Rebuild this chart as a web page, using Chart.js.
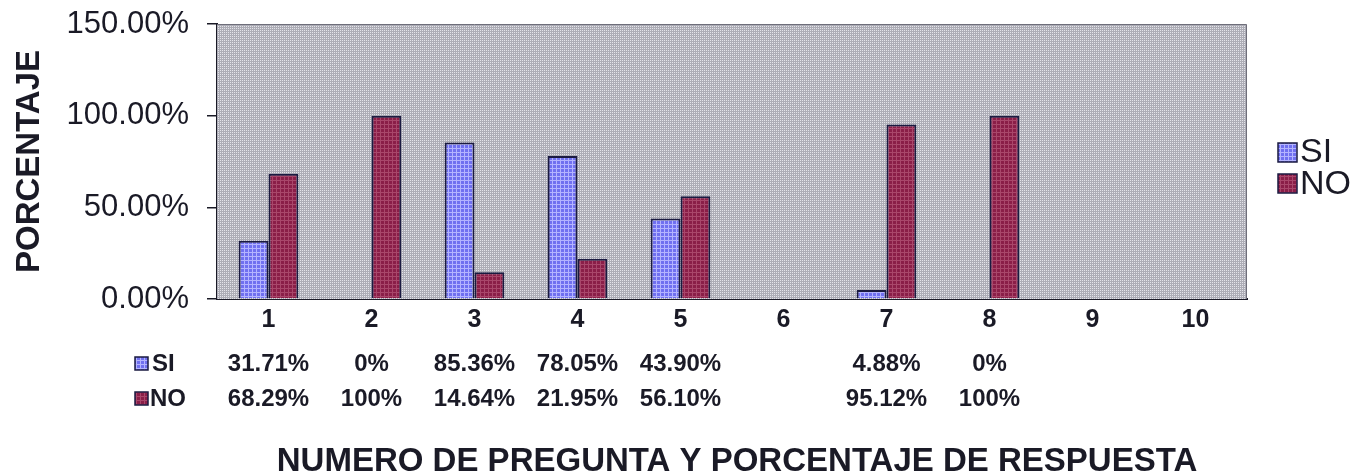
<!DOCTYPE html>
<html>
<head>
<meta charset="utf-8">
<script src="https://cdn.jsdelivr.net/npm/chart.js@4/dist/chart.umd.min.js"></script>
<style>
  html, body { margin: 0; padding: 0; background: #fff; }
  #wrap { width: 1365px; height: 475px; }
</style>
</head>
<body>
<div id="wrap"><canvas id="chart" width="1365" height="475"></canvas></div>
<script>
// data
const preguntas = ["1", "2", "3", "4", "5", "6", "7", "8", "9", "10"];
const siValues = [31.71, 0, 85.36, 78.05, 43.90, null, 4.88, 0, null, null];
const noValues = [68.29, 100, 14.64, 21.95, 56.10, null, 95.12, 100, null, null];
const siLabels = ["31.71%", "0%", "85.36%", "78.05%", "43.90%", "", "4.88%", "0%", "", ""];
const noLabels = ["68.29%", "100%", "14.64%", "21.95%", "56.10%", "", "95.12%", "100%", "", ""];
const yTicks = [0, 50, 100, 150];

const FONT = "'Liberation Sans', Arial, sans-serif";
const TEXT = "#1a1a26";

// small tiled fills, like the old office hatch patterns
function makePattern(base, light, cell) {
  const c = document.createElement("canvas");
  c.width = 4;
  c.height = 4;
  const g = c.getContext("2d");
  g.fillStyle = base;
  g.fillRect(0, 0, 4, 4);
  g.fillStyle = light;
  if (cell === "grid") {
    g.fillRect(0, 0, 4, 1);
    g.fillRect(0, 0, 1, 4);
  } else {
    g.fillRect(0, 0, 1, 1);
    g.fillRect(2, 2, 1, 1);
    g.fillRect(2, 0, 1, 1);
    g.fillRect(0, 2, 1, 1);
  }
  return document.getElementById("chart").getContext("2d").createPattern(c, "repeat");
}

const bgPattern = makePattern("#adadb6", "#e4e4ea", "dots");
const siPattern = makePattern("#7070f0", "#b4b4ff", "grid");
const noPattern = makePattern("#8a1e48", "#a9476b", "grid");

const plotBackground = {
  id: "plotBackground",
  beforeDatasetsDraw(chart) {
    const { ctx, chartArea: a } = chart;
    ctx.save();
    ctx.fillStyle = bgPattern;
    ctx.fillRect(a.left, a.top, a.right - a.left, a.bottom - a.top);
    ctx.strokeStyle = "#6e6e7a";
    ctx.lineWidth = 1;
    ctx.beginPath();
    ctx.moveTo(a.left, a.top + 0.5);
    ctx.lineTo(a.right - 0.5, a.top + 0.5);
    ctx.lineTo(a.right - 0.5, a.bottom);
    ctx.stroke();
    ctx.restore();
  },
};

function drawKey(ctx, x, y, size, fill) {
  ctx.fillStyle = fill;
  ctx.fillRect(x, y, size, size);
  ctx.strokeStyle = "#1a1a40";
  ctx.lineWidth = 1.5;
  ctx.strokeRect(x, y, size, size);
}

// legend on the right, data table and the axis title underneath
const extras = {
  id: "extras",
  afterDraw(chart) {
    const { ctx, scales } = chart;
    const x = scales.x;
    ctx.save();
    ctx.fillStyle = TEXT;
    ctx.textBaseline = "middle";

    // legend
    ctx.font = "34px " + FONT;
    drawKey(ctx, 1278, 143, 19, siPattern);
    ctx.fillStyle = TEXT;
    ctx.textAlign = "left";
    ctx.fillText("SI", 1300, 153);
    drawKey(ctx, 1278, 174, 19, noPattern);
    ctx.fillStyle = TEXT;
    ctx.fillText("NO", 1300, 185);

    // data table
    ctx.font = "bold 24px " + FONT;
    drawKey(ctx, 135, 357, 13, siPattern);
    drawKey(ctx, 135, 392, 13, noPattern);
    ctx.fillStyle = TEXT;
    ctx.fillText("SI", 152, 364);
    ctx.fillText("NO", 150, 399);
    ctx.textAlign = "center";
    preguntas.forEach((p, i) => {
      const cx = x.getPixelForValue(i);
      ctx.fillText(siLabels[i], cx, 364);
      ctx.fillText(noLabels[i], cx, 399);
    });

    // x axis title
    ctx.font = "bold 33px " + FONT;
    ctx.fillText("NUMERO DE PREGUNTA Y PORCENTAJE DE RESPUESTA", 737, 462);
    ctx.restore();
  },
};

const zeroless = (ctx) => (ctx.raw ? 2 : 0);

new Chart(document.getElementById("chart"), {
  type: "bar",
  data: {
    labels: preguntas,
    datasets: [
      {
        label: "SI",
        data: siValues,
        backgroundColor: siPattern,
        borderColor: "#1a1a40",
        borderWidth: zeroless,
        borderSkipped: "start",
      },
      {
        label: "NO",
        data: noValues,
        backgroundColor: noPattern,
        borderColor: "#1a1a40",
        borderWidth: zeroless,
        borderSkipped: "start",
      },
    ],
  },
  options: {
    responsive: false,
    animation: false,
    devicePixelRatio: 1,
    layout: { padding: { top: 24, right: 118, bottom: 0, left: 0 } },
    datasets: { bar: { categoryPercentage: 0.58, barPercentage: 1.0 } },
    plugins: {
      legend: { display: false },
      tooltip: { enabled: false },
    },
    scales: {
      x: {
        grid: { display: true, drawOnChartArea: false, drawTicks: false },
        border: { display: true, color: "#1a1a26", width: 2 },
        ticks: {
          color: TEXT,
          font: { family: FONT, size: 25, weight: "bold" },
          padding: 6,
        },
        afterFit(scale) {
          scale.height = 176;
        },
      },
      y: {
        min: 0,
        max: 150,
        afterBuildTicks(scale) {
          scale.ticks = yTicks.map((v) => ({ value: v }));
        },
        grid: {
          drawOnChartArea: false,
          drawTicks: true,
          tickLength: 10,
          color: "#1a1a26",
          lineWidth: 1.5,
        },
        border: { display: true, color: "#1a1a26", width: 2 },
        ticks: {
          color: TEXT,
          font: { family: FONT, size: 31 },
          padding: 18,
          callback: (v) => v.toFixed(2) + "%",
        },
        title: {
          display: true,
          text: "PORCENTAJE",
          color: TEXT,
          font: { family: FONT, size: 33, weight: "bold" },
          padding: { top: 10, bottom: 0 },
        },
        afterFit(scale) {
          scale.width = 217;
          scale.paddingTop = 0;
          scale.paddingBottom = 0;
        },
      },
    },
  },
  plugins: [plotBackground, extras],
});
</script>
</body>
</html>
